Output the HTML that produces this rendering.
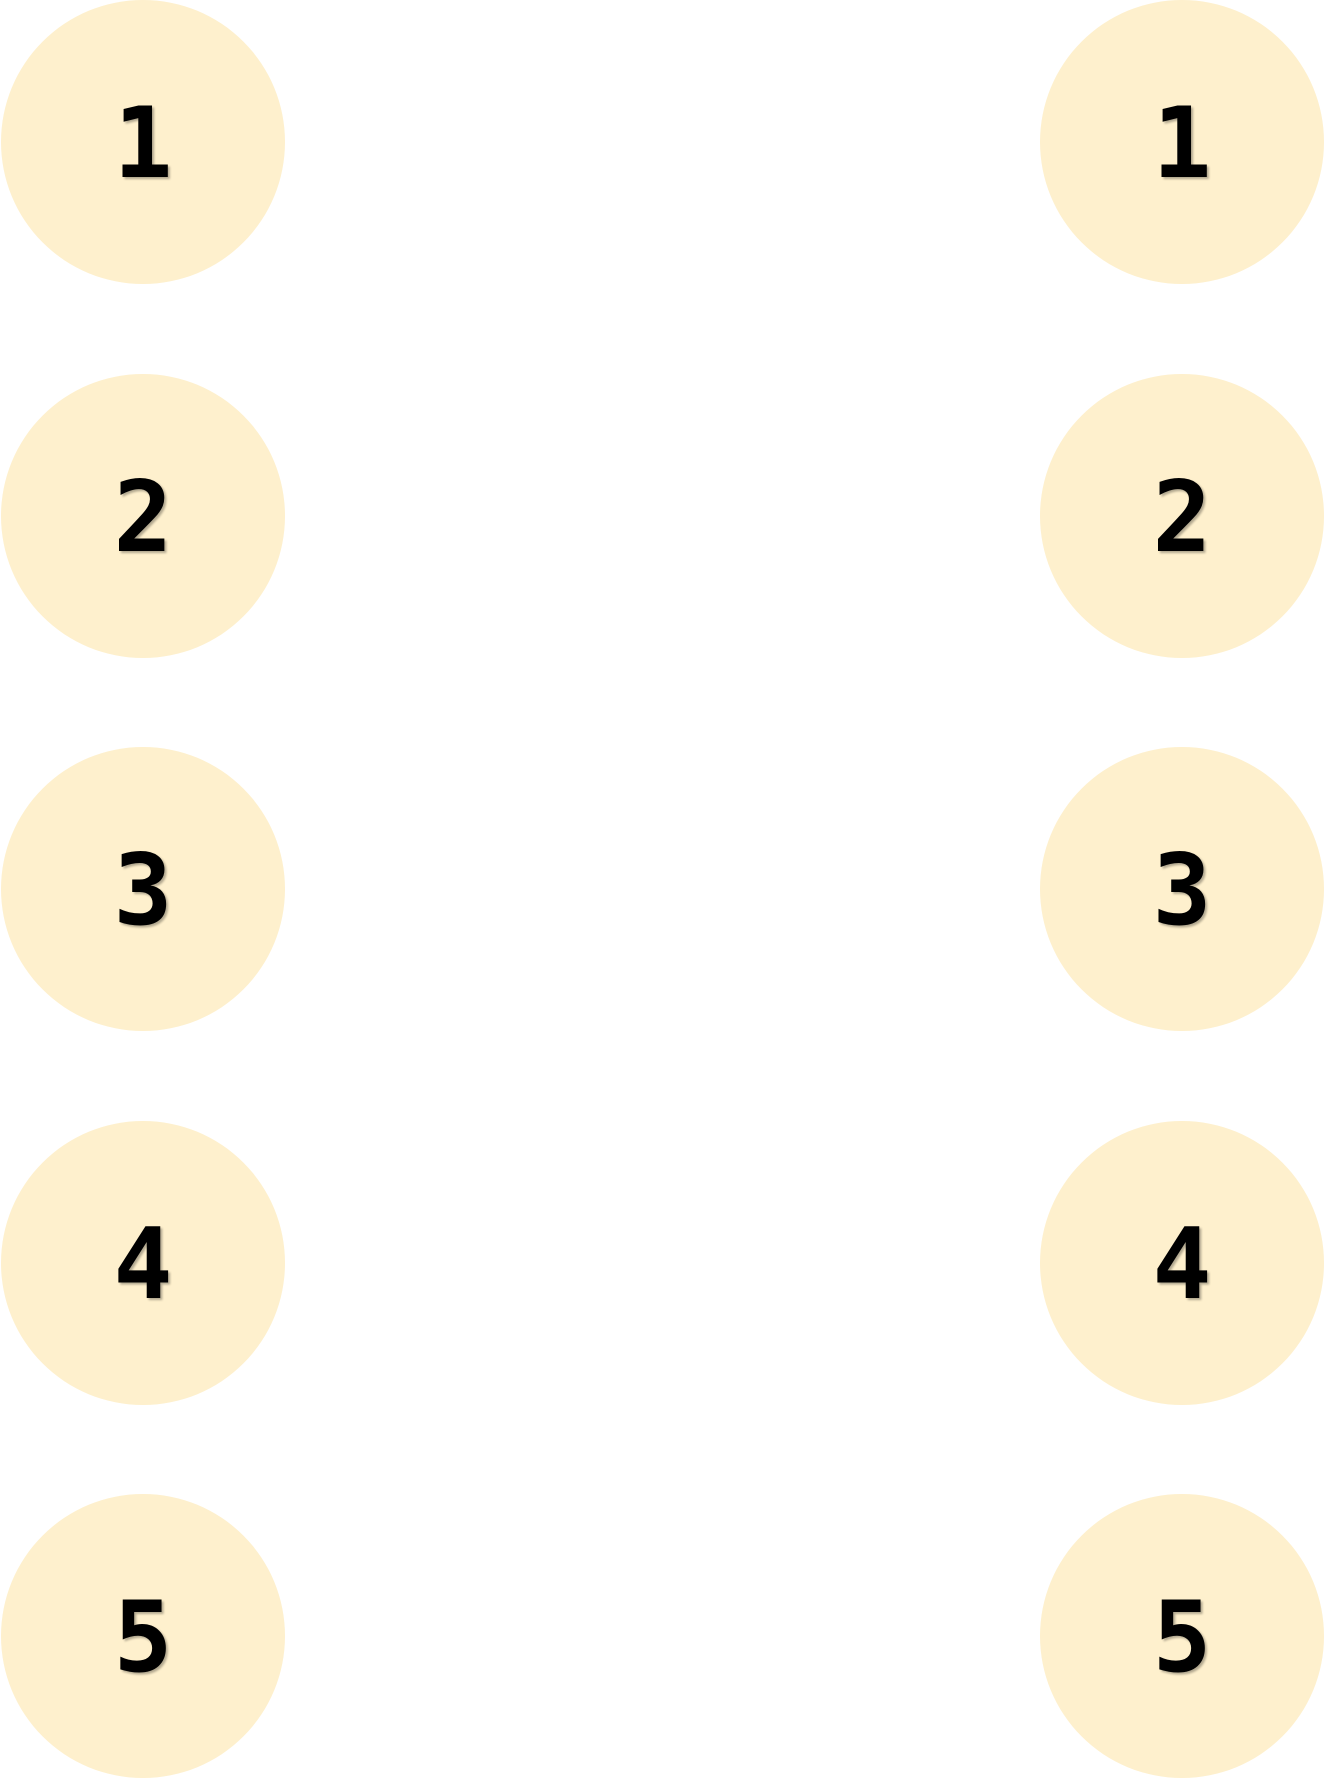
<!DOCTYPE html>
<html><head><style>
html,body{margin:0;padding:0;background:#fff;width:1326px;height:1778px;overflow:hidden;position:relative}
.c{position:absolute;width:284px;height:284px;border-radius:50%;background:#fef0cd;
display:flex;align-items:center;justify-content:center;
font-family:"DejaVu Sans Mono",monospace;font-weight:bold;font-size:98px;color:#000;
text-shadow:2px 2px 2px rgba(0,0,0,0.3);line-height:1;padding-top:4px;box-sizing:border-box}
</style></head><body>
<div class="c" style="left:1px;top:0px">1</div>
<div class="c" style="left:1px;top:374px">2</div>
<div class="c" style="left:1px;top:747px">3</div>
<div class="c" style="left:1px;top:1121px">4</div>
<div class="c" style="left:1px;top:1494px">5</div>
<div class="c" style="left:1040px;top:0px">1</div>
<div class="c" style="left:1040px;top:374px">2</div>
<div class="c" style="left:1040px;top:747px">3</div>
<div class="c" style="left:1040px;top:1121px">4</div>
<div class="c" style="left:1040px;top:1494px">5</div>
</body></html>
